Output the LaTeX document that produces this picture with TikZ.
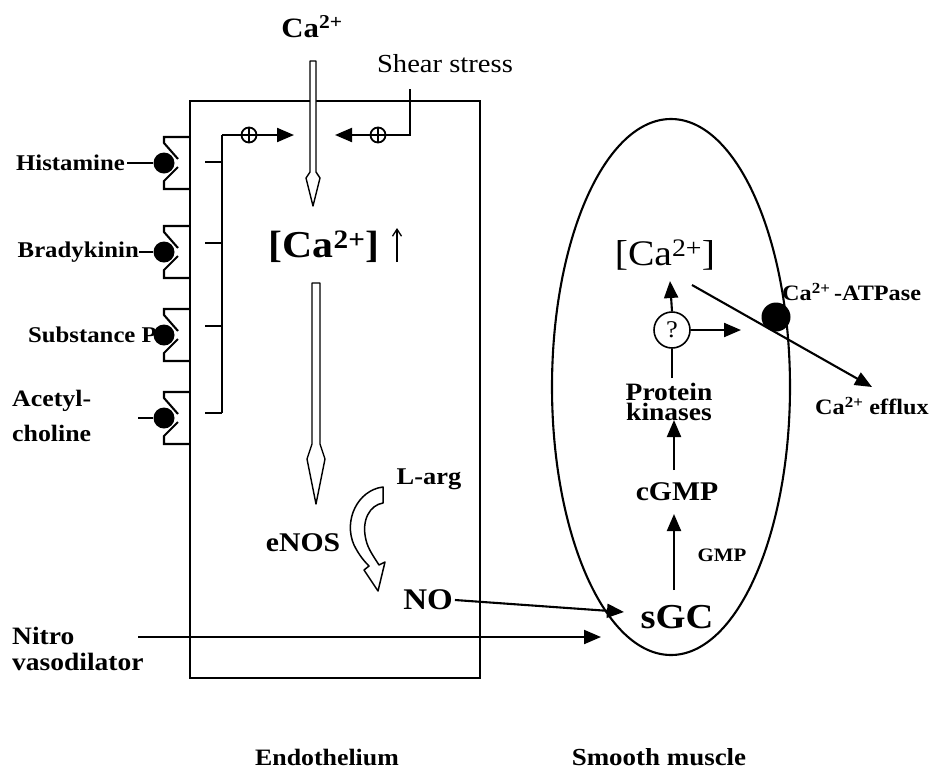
\documentclass[tikz,border=0pt]{standalone}
\usepackage{fontspec}
\setmainfont{Liberation Serif}[FakeStretch=1.1]
\usetikzlibrary{arrows.meta}
\begin{document}
\begin{tikzpicture}[x=1pt,y=-1pt,
  lbl/.style={font=\bfseries\fontsize{22.5}{24}\selectfont, inner sep=2pt},
  ln/.style={line width=2.1pt},
  arr/.style={line width=2.1pt,-{Triangle[length=17pt,width=14pt]}},
  dot/.style={circle, fill, inner sep=0pt, minimum size=21pt},
  plus/.style={circle, draw, line width=1.8pt, inner sep=0pt, minimum size=15pt},
  hollow/.style={line width=1.4pt, fill=white, line join=round},
]
\useasboundingbox (0,0) rectangle (934,772);

% endothelium box
\draw[ln] (190,101) rectangle (480,678);

% receptors
\foreach \yc/\nm in {163/d1,252/d2,335/d3,418/d4}{
  \draw[ln] (190,\yc-26) -- (164,\yc-26) -- (164,\yc-20) -- (178,\yc-4);
  \draw[ln] (178,\yc+4) -- (164,\yc+18) -- (164,\yc+26) -- (190,\yc+26);
  \node[dot] (\nm) at (164,\yc) {};
}
\node[lbl, anchor=east] (hist) at (127,163) {Histamine};
\node[lbl, anchor=east, inner sep=0pt] (brad) at (139,252) {Bradykinin};
\node[lbl, anchor=east, inner sep=0pt] (subp) at (157,335) {Substance P};
\node[lbl, anchor=west, align=left, font=\bfseries\fontsize{23.5}{35}\selectfont] (acet) at (10,416) {Acetyl-\\choline};
\coordinate (acetend) at (138,418);
\draw[ln] (hist.east) -- (d1);
\draw[ln] (brad.east) -- (d2);
\draw[ln] (acetend) -- (d4);

% bracket
\coordinate (bt) at (222,135);
\coordinate (bb) at (222,413);
\draw[ln] (bt) -- (bb);
\foreach \y in {162,243,326,413}{ \draw[ln] (205,\y) -- (222,\y); }
\node[plus] (p1) at (249,135) {};
\draw[line width=1.8pt] (p1.north) -- (p1.south) (p1.west) -- (p1.east);
\draw[ln] (bt) -- (p1.west);
\coordinate (p1end) at (294,135);
\draw[arr] (p1.east) -- (p1end);

% shear stress
\node[font=\fontsize{26}{28}\selectfont, inner sep=0pt] (shear) at (445,64) {Shear stress};
\coordinate (s1) at (410,89);
\coordinate (s2) at (410,135);
\node[plus] (p2) at (378,135) {};
\draw[line width=1.8pt] (p2.north) -- (p2.south) (p2.west) -- (p2.east);
\draw[ln] (s1) -- (s2) -- (p2.east);
\coordinate (p2end) at (335,135);
\draw[arr] (p2.west) -- (p2end);

% Ca2+ entry
\node[lbl, font=\bfseries\fontsize{28}{30}\selectfont] (ca) at (312,27) {Ca\textsuperscript{2+}};
\draw[hollow] (310,172) -- (310,61) -- (316,61) -- (316,172) -- (320,178) -- (313,206) -- (306,178) -- cycle;

% [Ca2+] up
\node[font=\bfseries\fontsize{38}{40}\selectfont, inner sep=0pt] (cai) at (324,247) {[Ca\textsuperscript{2+}]};
\coordinate (up1) at (397,262);
\coordinate (up2) at (397,228);
\draw[line width=1.3pt, -{Straight Barb[length=7pt,width=9pt]}] (up1) -- (up2);
\draw[hollow] (312,444) -- (312,283) -- (320,283) -- (320,444) -- (325,459) -- (316,504) -- (307,459) -- cycle;

% eNOS
\node[lbl, font=\bfseries\fontsize{27}{29}\selectfont] (enos) at (303,543) {eNOS};
\node[lbl, font=\bfseries\fontsize{24}{26}\selectfont] (larg) at (429,479) {L-arg};
\draw[line width=1.5pt, fill=white, line join=round]
  (383,487) .. controls (358,490) and (343,520) .. (354,545)
  .. controls (359,555) and (364,561) .. (369,566)
  -- (364,570) -- (378,591) -- (385,562) -- (379,565)
  .. controls (374,557) and (368,549) .. (366,540)
  .. controls (361,520) and (370,505) .. (383,503) -- cycle;

\node[lbl, font=\bfseries\fontsize{30}{32}\selectfont] (no) at (428,600) {NO};

% nitro
\node[lbl, anchor=west, align=left, font=\bfseries\fontsize{25}{26}\selectfont] (nitro) at (10,649) {Nitro\\vasodilator};
\coordinate (n1) at (138,637);
\coordinate (n2) at (601,637);
\draw[arr] (n1) -- (n2);

% smooth muscle cell
\draw[ln] (671,387) ellipse [x radius=119, y radius=268];
\node[lbl, font=\bfseries\fontsize{35}{37}\selectfont] (sgc) at (677,617) {sGC};
\draw[arr] (no.east) -- (624,612);
\node[lbl, font=\bfseries\fontsize{27}{29}\selectfont] (cgmp) at (677,492) {cGMP};
\node[lbl, font=\bfseries\fontsize{19}{21}\selectfont] (gmp) at (722,555) {GMP};
\coordinate (g1) at (674,590);
\coordinate (g2) at (674,514);
\draw[arr] (g1) -- (g2);
\node[lbl, align=center, font=\bfseries\fontsize{25}{20}\selectfont] (pk) at (669,402) {Protein\\kinases};
\coordinate (c1) at (674,470);
\coordinate (c2) at (674,420);
\draw[arr] (c1) -- (c2);
\node[circle, draw, line width=1.6pt, minimum size=36pt, inner sep=0pt, font=\fontsize{24}{26}\selectfont] (q) at (672,330) {?};
\coordinate (pktop) at (672,378);
\draw[ln] (pktop) -- (q.south);
\node[font=\fontsize{36}{38}\selectfont, inner sep=0pt] (cas) at (665,255) {[Ca\textsuperscript{2+}]};
\coordinate (qa) at (670,281);
\draw[arr] (q.north) -- (qa);
\coordinate (qr) at (741,330);
\draw[arr] (q.east) -- (qr);
\coordinate (e1) at (692,285);
\coordinate (e2) at (872,387);
\draw[arr] (e1) -- (e2);
\node[dot, minimum size=29pt] (pump) at (776,317) {};
\node[lbl, anchor=west, inner sep=0pt, font=\bfseries\fontsize{22}{24}\selectfont] (atp) at (782,292) {Ca\textsuperscript{2+}\,-ATPase};
\node[lbl, anchor=west, inner sep=0pt, font=\bfseries\fontsize{22}{24}\selectfont] (eff) at (815,406) {Ca\textsuperscript{2+} efflux};

% bottom labels
\node[lbl, font=\bfseries\fontsize{23.5}{26}\selectfont] (endo) at (327,757) {Endothelium};
\node[lbl, font=\bfseries\fontsize{24.5}{27}\selectfont] (smooth) at (659,757) {Smooth muscle};
\end{tikzpicture}
\end{document}
